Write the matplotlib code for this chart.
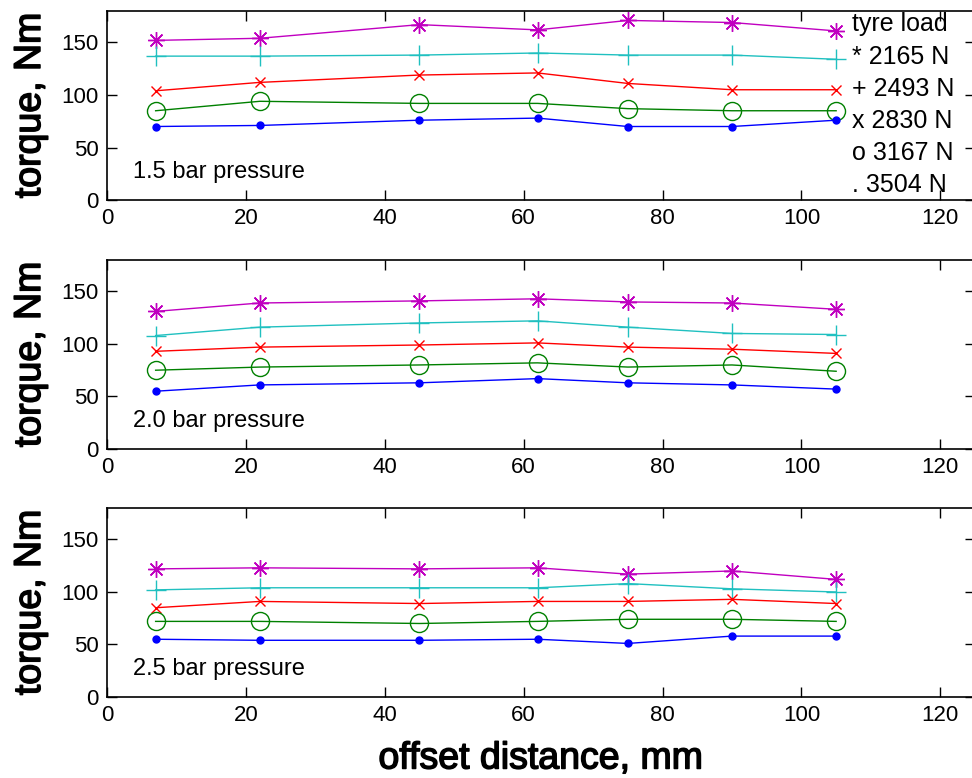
import matplotlib.pyplot as plt
import matplotlib.patheffects as pe

# offset distance, mm
offset = [7, 22, 45, 62, 75, 90, 105]

# torque (Nm) for each tyre load series, one list per pressure panel
# series order: magenta *, cyan +, red x, green o, blue .
torque_15 = [
    [152, 154, 167, 162, 171, 169, 161],
    [137, 137, 138, 140, 138, 138, 134],
    [104, 112, 119, 121, 111, 105, 105],
    [85, 94, 92, 92, 87, 85, 85],
    [70, 71, 76, 78, 70, 70, 76],
]
torque_20 = [
    [131, 139, 141, 143, 140, 139, 133],
    [108, 116, 120, 122, 116, 110, 109],
    [93, 97, 99, 101, 97, 95, 91],
    [75, 78, 80, 82, 78, 80, 74],
    [55, 61, 63, 67, 63, 61, 57],
]
torque_25 = [
    [122, 123, 122, 123, 117, 120, 112],
    [102, 104, 104, 104, 108, 103, 100],
    [85, 91, 89, 91, 91, 93, 89],
    [72, 72, 70, 72, 74, 74, 72],
    [55, 54, 54, 55, 51, 58, 58],
]
panels = [torque_15, torque_20, torque_25]
panel_labels = ['1.5 bar pressure', '2.0 bar pressure', '2.5 bar pressure']
legend_lines = ['tyre load', '* 2165 N', '+ 2493 N', 'x 2830 N', 'o 3167 N', '. 3504 N']

colors = ['#C000C0', '#20C0C0', '#FF0000', '#008000', '#0000FF']
markers = [(8, 2, 0), '+', 'x', 'o', '.']
msizes = [12, 14, 7, 13, 10]

plt.rcParams['font.family'] = ['Liberation Sans', 'DejaVu Sans']

# slightly heavier stroke for the axis titles
heavy = [pe.withStroke(linewidth=1.1, foreground='black')]

fig = plt.figure(figsize=(9.72, 7.78), dpi=100)

# axes boxes in figure fraction: left, bottom, width, height
boxes = [
    [0.1101, 0.7429, 0.893, 0.2430],
    [0.1101, 0.4229, 0.893, 0.2430],
    [0.1101, 0.1041, 0.893, 0.2430],
]

axes = []
for box, data, label in zip(boxes, panels, panel_labels):
    ax = fig.add_axes(box)
    for vals, c, m, ms in zip(data, colors, markers, msizes):
        ax.plot(offset, vals, color=c, lw=1.0, marker=m, markersize=ms,
                markerfacecolor=c if m == '.' else 'none', markeredgecolor=c,
                markeredgewidth=1.0)
    ax.set_xlim(0, 125)
    ax.set_ylim(0, 180)
    ax.set_xticks([0, 20, 40, 60, 80, 100, 120])
    ax.set_yticks([0, 50, 100, 150])
    ax.tick_params(direction='in', top=True, right=True, length=7, width=1.0,
                   labelsize=16, pad=6)
    for sp in ax.spines.values():
        sp.set_linewidth(1.2)
    ax.set_ylabel('torque, Nm', fontsize=27, path_effects=heavy)
    ax.yaxis.set_label_coords(-0.068, 0.5)
    ax.text(3.7, 21, label, fontsize=17, va='baseline', ha='left')
    axes.append(ax)

# text legend in the top panel
for i, line in enumerate(legend_lines):
    axes[0].text(107.3, 160.5 - 30.6 * i, line, fontsize=18, va='baseline', ha='left')

axes[2].set_xlabel('offset distance, mm', fontsize=27, path_effects=heavy)
axes[2].xaxis.set_label_coords(0.5, -0.378)
axes[2].xaxis.label.set_va('baseline')

fig.savefig('out.png', dpi=100)
